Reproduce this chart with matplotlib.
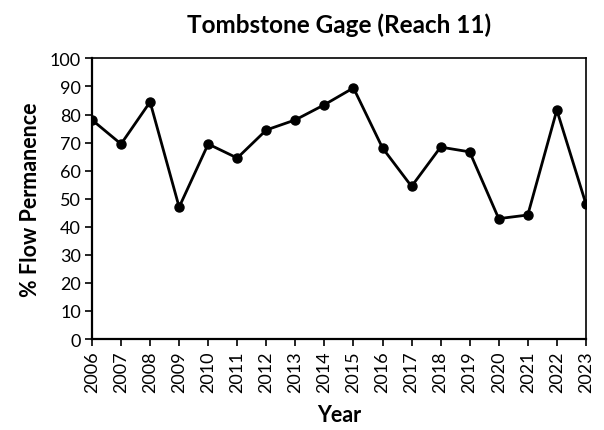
import matplotlib
matplotlib.use("Agg")
import matplotlib.pyplot as plt

years = list(range(2006, 2024))
flow = [78.1, 69.5, 84.5, 47.0, 69.5, 64.5, 74.5, 78.1, 83.5,
        89.5, 68.1, 54.4, 68.4, 66.7, 42.9, 44.2, 81.6, 48.2]
yticks = list(range(0, 101, 10))

plt.rcParams['font.family'] = ['Lato', 'DejaVu Sans']

fig = plt.figure(figsize=(6.04, 4.31), dpi=100)
ax = fig.add_axes([0.1523, 0.2111, 0.8177, 0.651])

ax.plot(years, flow, color='black', lw=2, marker='o', markersize=6.5)

ax.set_xlim(2006, 2023)
ax.set_ylim(0, 100)
ax.set_xticks(years)
ax.set_xticklabels([str(y) for y in years], rotation=90, fontsize=13)
ax.set_yticks(yticks)
ax.set_yticklabels([str(v) for v in yticks], fontsize=13)
ax.tick_params(direction='out', length=5, width=1.2, color='black', pad=3)

for s in ax.spines.values():
    s.set_linewidth(1.2)
ax.spines['left'].set_linewidth(1.6)
ax.spines['bottom'].set_linewidth(1.6)

ax.set_title('Tombstone Gage (Reach 11)', fontsize=17.5, fontweight='bold', pad=19)
ax.set_xlabel('Year', fontsize=15.5, fontweight='bold', labelpad=9)
ax.set_ylabel('% Flow Permanence', fontsize=15.5, fontweight='bold', labelpad=6)

fig.savefig('out.png', dpi=100)
